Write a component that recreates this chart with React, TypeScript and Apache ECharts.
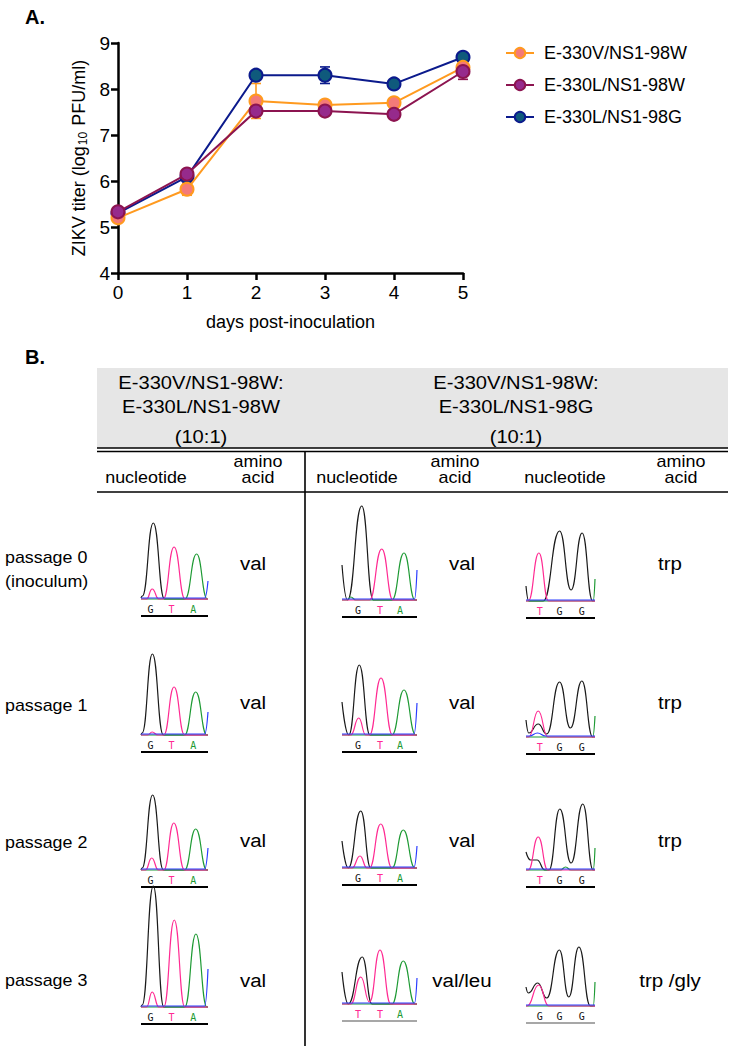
import React, { useEffect, useRef } from "react";
import * as echarts from "echarts";

// ---------- Panel A data ----------
const days = [0, 1, 2, 3, 4, 5];
const seriesNames = ["E-330V/NS1-98W", "E-330L/NS1-98W", "E-330L/NS1-98G"];
const titerVW = [5.2, 5.82, 7.74, 7.65, 7.7, 8.47];
const sdVW = [0.04, 0.13, 0.38, 0.04, 0.04, 0.1];
const titerLW = [5.33, 6.15, 7.52, 7.52, 7.45, 8.38];
const sdLW = [0.04, 0.08, 0.06, 0.04, 0.04, 0.17];
const titerLG = [5.3, 6.09, 8.3, 8.3, 8.11, 8.69];
const sdLG = [0.04, 0.06, 0.04, 0.18, 0.04, 0.04];

// ---------- Panel B data ----------
const passageLabels = ["passage 0", "passage 1", "passage 2", "passage 3"];
const headerMix1 = ["E-330V/NS1-98W:", "E-330L/NS1-98W", "(10:1)"];
const headerMix2 = ["E-330V/NS1-98W:", "E-330L/NS1-98G", "(10:1)"];
const aminoMix1 = ["val", "val", "val", "val"];
const aminoMix2E = ["val", "val", "val", "val/leu"];
const aminoMix2NS1 = ["trp", "trp", "trp", "trp /gly"];
const codonsMix1 = ["GTA", "GTA", "GTA", "GTA"];
const codonsMix2E = ["GTA", "GTA", "GTA", "TTA"];
const codonsMix2NS1 = ["TGG", "TGG", "TGG", "GGG"];

// chromatogram traces: x in base positions (0..3), y = signal height
const P0_C1 = {
  black: [[0, 1], [0.06, 3], [0.55, 76], [1.05, 0], [3, 0]],
  pink: [[0, 0], [0.25, 0], [0.5, 10], [0.8, 0], [1.0, 0], [1.48, 52], [1.97, 0], [3, 0]],
  green: [[0, 0], [1.97, 0], [2.49, 45], [2.97, 0], [3, 0]],
  blue: [[0, 1], [2.85, 1], [3, 18]],
};
const P0_C2 = {
  black: [[0, 35], [0.22, 0], [0.79, 94], [1.25, 0], [3, 0]],
  pink: [[0, 0], [1.1, 0], [1.59, 51], [2.04, 0], [3, 0]],
  green: [[0, 0], [0.2, 0], [0.35, 3], [0.55, 0], [2.0, 0], [2.48, 47], [2.92, 0], [3, 0]],
  blue: [[0, 1], [2.9, 1], [3, 30]],
};
const P0_C3 = {
  black: [[0, 15], [0.12, 0], [0.75, 0], [1.46, 70], [1.96, 11], [2.44, 68], [2.9, 0], [3, 0]],
  pink: [[0, 0], [0.1, 0], [0.56, 48], [0.98, 0], [3, 0]],
  green: [[0, 0], [2.92, 0], [3, 22]],
  blue: [[0, 1], [3, 1]],
};
const P1_C1 = {
  black: [[0, 0], [0.05, 2], [0.51, 81], [1.0, 0], [3, 0]],
  pink: [[0, 0], [0.3, 0], [0.5, 3], [0.75, 0], [1.02, 0], [1.48, 48], [1.95, 0], [3, 0]],
  green: [[0, 0], [1.95, 0], [2.45, 43], [2.95, 0], [3, 0]],
  blue: [[0, 1], [2.85, 1], [3, 23]],
};
const P1_C2 = {
  black: [[0, 33], [0.27, 0], [0.69, 70], [1.12, 0], [3, 0]],
  pink: [[0, 0], [0.35, 0], [0.67, 17], [0.95, 0], [1.1, 0], [1.56, 57], [2.02, 0], [3, 0]],
  green: [[0, 0], [2.0, 0], [2.48, 45], [2.95, 0], [3, 0]],
  blue: [[0, 1], [2.88, 1], [3, 32]],
};
const P1_C3 = {
  black: [[0, 17], [0.12, 4], [0.53, 13], [0.9, 3], [1.46, 55], [1.93, 9], [2.43, 56], [2.9, 0], [3, 0]],
  pink: [[0, 0], [0.12, 0], [0.53, 26], [0.95, 0], [3, 0]],
  green: [[0, 0], [2.9, 0], [3, 21]],
  blue: [[0, 1], [0.15, 1], [0.5, 4], [0.85, 1], [3, 1]],
};
const P2_C1 = {
  black: [[0, 0], [0.05, 2], [0.52, 75], [1.0, 0], [3, 0]],
  pink: [[0, 0], [0.2, 0], [0.48, 12], [0.78, 0], [1.02, 0], [1.47, 47], [1.95, 0], [3, 0]],
  green: [[0, 0], [1.95, 0], [2.45, 41], [2.95, 0], [3, 0]],
  blue: [[0, 1], [2.85, 1], [3, 22]],
};
const P2_C2 = {
  black: [[0, 27], [0.25, 0], [0.75, 57], [1.15, 0], [3, 0]],
  pink: [[0, 0], [0.4, 0], [0.72, 12], [1.0, 0], [1.1, 0], [1.55, 44], [2.0, 0], [3, 0]],
  green: [[0, 0], [2.0, 0], [2.45, 38], [2.92, 0], [3, 0]],
  blue: [[0, 1], [2.88, 1], [3, 22]],
};
const P2_C3 = {
  black: [[0, 18], [0.2, 10], [0.48, 10], [0.82, 0], [1.0, 0], [1.47, 61], [1.96, 7], [2.47, 66], [2.92, 0], [3, 0]],
  pink: [[0, 0], [0.1, 0], [0.53, 33], [0.95, 0], [3, 0]],
  green: [[0, 0], [1.5, 0], [1.72, 3], [1.95, 0], [2.92, 0], [3, 22]],
  blue: [[0, 1], [3, 1]],
};
const P3_C1 = {
  black: [[0, 0], [0.05, 2], [0.55, 121], [1.02, 0], [3, 0]],
  pink: [[0, 0], [0.25, 0], [0.5, 15], [0.8, 0], [1.02, 0], [1.49, 87], [1.96, 0], [3, 0]],
  green: [[0, 0], [1.96, 0], [2.46, 73], [2.95, 0], [3, 0]],
  blue: [[0, 1], [2.85, 1], [3, 38]],
};
const P3_C2 = {
  black: [[0, 32], [0.25, 0], [0.81, 47], [1.2, 0], [3, 0]],
  pink: [[0, 0], [0.35, 0], [0.75, 27], [1.1, 2], [1.52, 54], [1.95, 0], [3, 0]],
  green: [[0, 0], [2.0, 0], [2.45, 43], [2.92, 0], [3, 0]],
  blue: [[0, 1], [2.9, 1], [3, 26]],
};
const P3_C3 = {
  black: [[0, 19], [0.1, 13], [0.51, 23], [0.9, 8], [1.45, 56], [1.86, 9], [2.3, 59], [2.8, 0], [3, 0]],
  pink: [[0, 0], [0.05, 0], [0.55, 21], [0.99, 0], [3, 0]],
  green: [[0, 0], [2.92, 0], [3, 24]],
  blue: [[0, 1], [3, 1]],
};
const chromRows = [
  [P0_C1, P0_C2, P0_C3],
  [P1_C1, P1_C2, P1_C3],
  [P2_C1, P2_C2, P2_C3],
  [P3_C1, P3_C2, P3_C3],
];
const codonRows = [0, 1, 2, 3].map((r) => [codonsMix1[r], codonsMix2E[r], codonsMix2NS1[r]]);
const aminoRows = [0, 1, 2, 3].map((r) => [aminoMix1[r], aminoMix2E[r], aminoMix2NS1[r]]);

// ---------- layout / styles ----------
const FONT = "'Liberation Sans', Arial, Helvetica, sans-serif";
const lineColors = ["#ff9a1f", "#8c1450", "#0b1a8c"];
const fillColors = ["#f47a78", "#962a8c", "#0f5a7c"];
const traceColors: Record<string, string> = {
  black: "#1a1a1a",
  green: "#1e9a34",
  pink: "#ff2a92",
  blue: "#2a3cff",
};
const letterColors: Record<string, string> = { G: "#111111", T: "#ff2a92", A: "#1e9a34", C: "#2a3cff" };
const chromCols = [
  { x: 141, w: 67, letters: [0.43, 1.37, 2.34] },
  { x: 342, w: 75, letters: [0.64, 1.52, 2.32] },
  { x: 526, w: 69, letters: [0.6, 1.46, 2.43] },
];
const rowBaselines = [
  [599, 600, 601],
  [735, 735, 737],
  [870, 868, 870],
  [1007, 1004, 1006],
];
const aminoX = [253, 462, 670];
const aminoY = [563, 702, 840, 980];
const passageY = [557, 705, 842, 980];

export default function App() {
  const ref = useRef<HTMLDivElement>(null);
  useEffect(() => {
    if (!ref.current) return;
    const chart = echarts.init(ref.current, undefined, { renderer: "svg" });

    const grids: any[] = [
      { left: 118, top: 43, width: 345, height: 230, containLabel: false },
    ];
    const xAxes: any[] = [
      {
        type: "value",
        gridIndex: 0,
        min: 0,
        max: 5,
        interval: 1,
        axisLine: { show: true, onZero: false, lineStyle: { color: "#000", width: 2.5 } },
        axisTick: { show: true, length: 7, lineStyle: { color: "#000", width: 2.5 } },
        axisLabel: { fontSize: 19, color: "#000", margin: 10, fontFamily: FONT },
        splitLine: { show: false },
        name: "days post-inoculation",
        nameLocation: "middle",
        nameGap: 40,
        nameTextStyle: { fontSize: 18, color: "#000", fontFamily: FONT },
      },
    ];
    const yAxes: any[] = [
      {
        type: "value",
        gridIndex: 0,
        min: 4,
        max: 9,
        interval: 1,
        axisLine: { show: true, onZero: false, lineStyle: { color: "#000", width: 2.5 } },
        axisTick: { show: true, length: 7, lineStyle: { color: "#000", width: 2.5 } },
        axisLabel: { fontSize: 19, color: "#000", margin: 8, fontFamily: FONT },
        splitLine: { show: false },
        name: "ZIKV titer (log{sub|10} PFU/ml)",
        nameLocation: "middle",
        nameGap: 29,
        nameTextStyle: {
          fontSize: 18,
          color: "#000",
          fontFamily: FONT,
          rich: { sub: { fontSize: 12, verticalAlign: "bottom", color: "#000", fontFamily: FONT, padding: [8, 1, 0, 1] } },
        },
      },
    ];

    const titers = [titerVW, titerLW, titerLG];
    const sds = [sdVW, sdLW, sdLG];
    const series: any[] = [];
    const drawOrder = [2, 0, 1];
    drawOrder.forEach((k, oi) => {
      const color = lineColors[k];
      series.push({
        type: "custom",
        name: "err" + k,
        xAxisIndex: 0,
        yAxisIndex: 0,
        z: 2 + oi,
        silent: true,
        data: days.map((d, i) => [d, titers[k][i], sds[k][i]]),
        renderItem: (params: any, api: any) => {
          const x = api.value(0);
          const y = api.value(1);
          const e = api.value(2);
          const top = api.coord([x, y + e]);
          const bot = api.coord([x, y - e]);
          const hw = 5;
          const st = { stroke: color, lineWidth: 1.6 };
          return {
            type: "group",
            children: [
              { type: "line", shape: { x1: top[0], y1: top[1], x2: bot[0], y2: bot[1] }, style: st },
              { type: "line", shape: { x1: top[0] - hw, y1: top[1], x2: top[0] + hw, y2: top[1] }, style: st },
              { type: "line", shape: { x1: bot[0] - hw, y1: bot[1], x2: bot[0] + hw, y2: bot[1] }, style: st },
            ],
          };
        },
      });
      series.push({
        type: "line",
        name: seriesNames[k],
        xAxisIndex: 0,
        yAxisIndex: 0,
        z: 5 + oi,
        data: days.map((d, i) => [d, titers[k][i]]),
        symbol: "circle",
        symbolSize: 13,
        lineStyle: { color, width: 2 },
        itemStyle: { color: fillColors[k], borderColor: color, borderWidth: 2 },
      });
    });

    // chromatograms
    const graphics: any[] = [];
    chromRows.forEach((row, r) => {
      row.forEach((tr: any, c) => {
        const gi = grids.length;
        const base = rowBaselines[r][c];
        const col = chromCols[c];
        grids.push({ left: col.x, top: base - 128, width: col.w, height: 130 });
        xAxes.push({ type: "value", gridIndex: gi, min: 0, max: 3, show: false });
        yAxes.push({ type: "value", gridIndex: gi, min: -2, max: 128, show: false });
        ["black", "green", "pink", "blue"].forEach((key, ki) => {
          series.push({
            type: "line",
            name: "trace",
            xAxisIndex: gi,
            yAxisIndex: gi,
            data: tr[key],
            smooth: 0.5,
            smoothMonotone: "x",
            symbol: "none",
            silent: true,
            clip: true,
            z: 2 + ki,
            lineStyle: { color: traceColors[key], width: 1.2 },
          });
        });
        const codon = codonRows[r][c];
        codon.split("").forEach((ch, li) => {
          graphics.push({
            type: "text",
            x: col.x + (col.letters[li] / 3) * col.w,
            y: base + 10,
            style: {
              text: ch,
              fill: letterColors[ch],
              font: "10px 'DejaVu Sans Mono', monospace",
              textAlign: "center",
              textVerticalAlign: "middle",
            },
          });
        });
        const grey = r === 3 && c > 0;
        graphics.push({
          type: "line",
          shape: { x1: col.x, y1: base + 17, x2: col.x + col.w, y2: base + 17 },
          style: { stroke: grey ? "#8a8a8a" : "#000", lineWidth: grey ? 1.5 : 2.2 },
        });
        graphics.push({
          type: "text",
          x: aminoX[c],
          y: aminoY[r],
          scaleX: 1.08,
          style: {
            text: aminoRows[r][c],
            fill: "#000",
            font: `19px ${FONT}`,
            textAlign: "center",
            textVerticalAlign: "middle",
          },
        });
      });
    });

    const txt = (text: string, x: number, y: number, size: number, align = "center", sx = 1.12, bold = false) => ({
      type: "text",
      x,
      y,
      scaleX: sx,
      style: {
        text,
        fill: "#000",
        font: `${bold ? "bold " : ""}${size}px ${FONT}`,
        textAlign: align,
        textVerticalAlign: "middle",
      },
    });

    // panel letters
    graphics.push(txt("A.", 25, 17, 20, "left", 1, true));
    graphics.push(txt("B.", 25, 357, 20, "left", 1, true));
    // header box
    graphics.push({ type: "rect", shape: { x: 97, y: 368, width: 631, height: 80 }, style: { fill: "#e6e6e6" }, z: -1 });
    const hy = [383, 407, 437];
    headerMix1.forEach((t, i) => graphics.push(txt(t, 201, hy[i], 18)));
    headerMix2.forEach((t, i) => graphics.push(txt(t, 516, hy[i], 18)));
    graphics.push({ type: "line", shape: { x1: 97, y1: 448, x2: 728, y2: 448 }, style: { stroke: "#000", lineWidth: 1.6 } });
    graphics.push({ type: "line", shape: { x1: 97, y1: 451.5, x2: 728, y2: 451.5 }, style: { stroke: "#000", lineWidth: 1.6 } });
    graphics.push({ type: "line", shape: { x1: 97, y1: 492, x2: 728, y2: 492 }, style: { stroke: "#000", lineWidth: 1.6 } });
    graphics.push({ type: "line", shape: { x1: 305, y1: 451, x2: 305, y2: 1046 }, style: { stroke: "#000", lineWidth: 1.6 } });
    // column headers
    const nucX = [146, 357, 565];
    const aaX = [258, 455, 681];
    nucX.forEach((x) => graphics.push(txt("nucleotide", x, 478, 16)));
    aaX.forEach((x) => {
      graphics.push(txt("amino", x, 462, 16));
      graphics.push(txt("acid", x, 478, 16));
    });
    // passage labels
    passageLabels.forEach((t, i) => graphics.push(txt(t, 5, passageY[i], 17, "left", 1.05)));
    graphics.push(txt("(inoculum)", 5, 581, 17, "left", 1.05));

    chart.setOption({
      animation: false,
      textStyle: { fontFamily: FONT },
      grid: grids,
      xAxis: xAxes,
      yAxis: yAxes,
      legend: {
        data: seriesNames,
        orient: "vertical",
        left: 500,
        top: 39,
        itemWidth: 28,
        itemHeight: 13,
        itemGap: 14,
        selectedMode: false,
        textStyle: { fontSize: 18, color: "#000", fontFamily: FONT, padding: [0, 0, 0, 5] },
      },
      series,
      graphic: { elements: graphics },
    });
    return () => chart.dispose();
  }, []);
  return <div ref={ref} style={{ position: "absolute", left: 0, top: 0, width: 732, height: 1050 }} />;
}
